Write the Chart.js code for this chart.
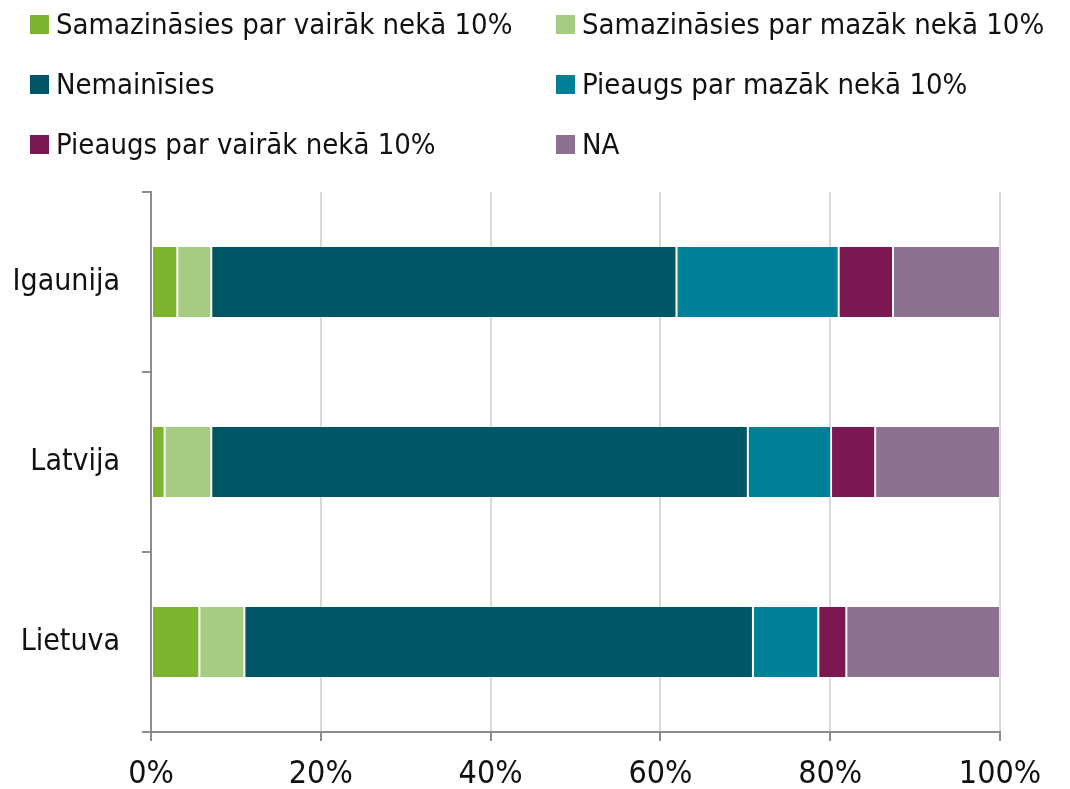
<!DOCTYPE html>
<html>
<head>
<meta charset="utf-8">
<script src="https://cdn.jsdelivr.net/npm/chart.js@4"></script>
<style>
  html, body { margin: 0; padding: 0; background: #fff; }
  .wrap { position: relative; width: 1070px; height: 789px; }
  #chart { position: absolute; left: 0; top: 0; }
  .legend { position: absolute; left: 30px; top: 0; width: 1040px; }
  .legend .item { position: absolute; display: flex; align-items: center;
    font-family: "Liberation Sans Narrow", "DejaVu Sans Condensed", sans-serif;
    font-size: 29px; color: #111; white-space: nowrap; }
  .legend .box { width: 19px; height: 19px; margin-right: 7px; flex: none; }
</style>
</head>
<body>
<div class="wrap">
  <canvas id="chart" width="1070" height="789"></canvas>
  <div class="legend" id="legend"></div>
</div>
<script>
// Valstis
const countries = ['Igaunija', 'Latvija', 'Lietuva'];

// Sērijas (% no respondentiem)
const seriesNames = [
  'Samazināsies par vairāk nekā 10%',
  'Samazināsies par mazāk nekā 10%',
  'Nemainīsies',
  'Pieaugs par mazāk nekā 10%',
  'Pieaugs par vairāk nekā 10%',
  'NA'
];
const decreaseMore = [3.1, 1.6, 5.7];
const decreaseLess = [4.0, 5.5, 5.3];
const noChange = [54.8, 63.2, 59.9];
const increaseLess = [19.1, 9.8, 7.7];
const increaseMore = [6.4, 5.2, 3.3];
const notAvailable = [12.6, 14.7, 18.1];

const xTicks = [0, 20, 40, 60, 80, 100];

const colors = ['#7db32f', '#a6cb82', '#005566', '#008096', '#7b1852', '#8c7190'];

document.addEventListener('DOMContentLoaded', function() {
  const values = [decreaseMore, decreaseLess, noChange, increaseLess, increaseMore, notAvailable];

  const datasets = seriesNames.map((name, i) => ({
    label: name,
    data: values[i],
    backgroundColor: colors[i],
    borderColor: 'rgba(255,255,255,0.18)',
    borderWidth: 1,
    borderSkipped: false,
    categoryPercentage: 1,
    barPercentage: 0.4
  }));

  // Leģenda (2 kolonnas)
  const legend = document.getElementById('legend');
  seriesNames.forEach((name, i) => {
    const el = document.createElement('div');
    el.className = 'item';
    el.style.left = (i % 2 === 0 ? 0 : 526) + 'px';
    el.style.top = (7 + Math.floor(i / 2) * 60) + 'px';
    el.innerHTML = '<span class="box" style="background:' + colors[i] + '"></span><span>' + name + '</span>';
    legend.appendChild(el);
  });

  const font = { family: '"Liberation Sans Narrow", "DejaVu Sans Condensed", sans-serif' };

  new Chart(document.getElementById('chart'), {
    type: 'bar',
    data: { labels: countries, datasets: datasets },
    options: {
      indexAxis: 'y',
      responsive: false,
      animation: false,
      layout: { padding: { top: 192, right: 70, left: 0, bottom: 0 } },
      plugins: { legend: { display: false }, tooltip: { enabled: false } },
      scales: {
        x: {
          stacked: true,
          min: 0,
          max: 100,
          afterBuildTicks: s => { s.ticks = xTicks.map(v => ({ value: v })); },
          afterFit: s => { s.height = 57; },
          border: { display: true, color: '#8c8c8c', width: 2 },
          grid: { color: '#d9d9d9', tickColor: '#8c8c8c', lineWidth: 2, tickLength: 9 },
          ticks: {
            color: '#111',
            font: { ...font, size: 32 },
            padding: 14,
            maxRotation: 0,
            callback: v => v + '%'
          }
        },
        y: {
          stacked: true,
          afterFit: s => { s.width = 151; },
          border: { display: true, color: '#8c8c8c', width: 2 },
          grid: { offset: true, drawOnChartArea: false, color: '#8c8c8c', lineWidth: 2, tickLength: 9 },
          ticks: { color: '#111', font: { ...font, size: 30 }, padding: 22 }
        }
      }
    }
  });
});
</script>
</body>
</html>
